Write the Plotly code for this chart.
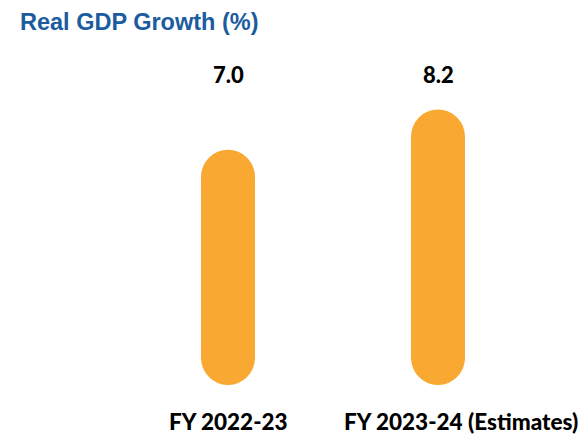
import plotly.graph_objects as go

categories = ["FY 2022-23", "FY 2023-24 (Estimates)"]
growth = [7.0, 8.2]
value_labels = [f"{v:.1f}" for v in growth]
title_text = "Real GDP Growth (%)"

BAR_COLOR = "#F9A832"

# layout geometry (page body adds an 8px margin, so figure is 16px smaller)
W, H = 578, 428
ML, MR, MT, MB = 115, 43, 41, 51
X_RANGE = [-0.5, 1.5]
Y_RANGE = [0, 10]
BAR_WIDTH = 0.257

plot_w = W - ML - MR
plot_h = H - MT - MB
px_per_x = plot_w / (X_RANGE[1] - X_RANGE[0])
px_per_y = plot_h / (Y_RANGE[1] - Y_RANGE[0])
bar_px = BAR_WIDTH * px_per_x
cap = (bar_px / 2) / px_per_y   # end-cap radius in y data units

fig = go.Figure()
# straight body of each pill
fig.add_trace(go.Bar(
    x=categories,
    y=[v - 2 * cap for v in growth],
    base=[cap] * len(growth),
    width=BAR_WIDTH,
    marker=dict(color=BAR_COLOR, line=dict(width=0)),
    hoverinfo="skip",
    showlegend=False,
))
# round ends (top and bottom) of each pill
end_x = [c for c in categories for _ in range(2)]
end_y = [y for v in growth for y in (cap, v - cap)]
fig.add_trace(go.Scatter(
    x=end_x, y=end_y, mode="markers",
    marker=dict(color=BAR_COLOR, size=bar_px, symbol="circle", line=dict(width=0)),
    hoverinfo="skip",
    showlegend=False,
))

annotations = []
for cat, lab in zip(categories, value_labels):
    annotations.append(dict(
        x=cat, y=9.23, xref="x", yref="y", text=lab,
        showarrow=False, xanchor="center", yanchor="middle",
        font=dict(family="Lato", size=22, color="#000000", weight=900),
    ))
shifts = [0, 23]
for cat, sh in zip(categories, shifts):
    annotations.append(dict(
        x=cat, y=-0.11, xref="x", yref="paper", text=cat,
        showarrow=False, xanchor="center", yanchor="middle", xshift=sh,
        font=dict(family="Lato", size=22.5, color="#000000", weight=900),
    ))

fig.update_layout(
    width=W, height=H,
    margin=dict(l=ML, r=MR, t=MT, b=MB),
    paper_bgcolor="white", plot_bgcolor="white",
    title=dict(
        text=f"<b>{title_text}</b>",
        x=12 / W, xanchor="left",
        y=1 - 14 / H, yanchor="middle",
        font=dict(family="Liberation Sans", size=23.5, color="#1B5C9E"),
    ),
    xaxis=dict(range=X_RANGE, showticklabels=False, showgrid=False,
               zeroline=False, showline=False, ticks="", fixedrange=True),
    yaxis=dict(range=Y_RANGE, showticklabels=False, showgrid=False,
               zeroline=False, showline=False, ticks="", fixedrange=True),
    annotations=annotations,
    showlegend=False,
)

fig.write_html("out.html")
